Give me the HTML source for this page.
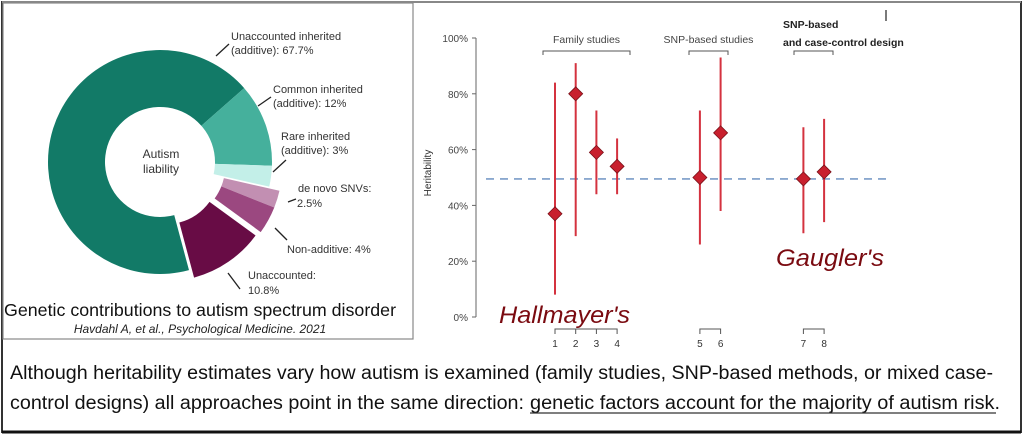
<!DOCTYPE html>
<html><head><meta charset="utf-8"><style>
body{margin:0;background:#fff;}
svg{display:block;font-family:"Liberation Sans",Arial,sans-serif;}
</style></head><body>
<svg width="1024" height="435" viewBox="0 0 1024 435">
<rect x="2" y="2" width="1019" height="430" fill="#fff" stroke="#333" stroke-width="2"/>
<line x1="2" y1="2" x2="1021" y2="2" stroke="#888" stroke-width="2"/>
<line x1="2" y1="432" x2="1021" y2="432" stroke="#111" stroke-width="3"/>
<rect x="3" y="3" width="410" height="336" fill="none" stroke="#888" stroke-width="1.2"/>
<g id="donut"></g>
<text x="161" y="158" font-size="12" fill="#333" text-anchor="middle">Autism</text>
<text x="161" y="173" font-size="12" fill="#333" text-anchor="middle">liability</text>
<g font-size="11" fill="#333">
<text x="231" y="40">Unaccounted inherited</text><text x="231" y="54">(additive): 67.7%</text>
<line x1="216" y1="56" x2="229" y2="44" stroke="#222" stroke-width="1.3"/>
<text x="273" y="93">Common inherited</text><text x="273" y="107">(additive): 12%</text>
<line x1="258" y1="106" x2="271" y2="97" stroke="#222" stroke-width="1.3"/>
<text x="281" y="140">Rare inherited</text><text x="281" y="154">(additive): 3%</text>
<line x1="273" y1="172" x2="286" y2="160" stroke="#222" stroke-width="1.3"/>
<text x="298" y="192">de novo SNVs:</text><text x="297" y="207">2.5%</text>
<line x1="288" y1="202" x2="296" y2="199" stroke="#222" stroke-width="1.3"/>
<text x="287" y="253">Non-additive: 4%</text>
<line x1="275" y1="228" x2="287" y2="240" stroke="#222" stroke-width="1.3"/>
<text x="248" y="279">Unaccounted:</text><text x="248" y="294">10.8%</text>
<line x1="228" y1="273" x2="240" y2="289" stroke="#222" stroke-width="1.3"/>
</g>
<text x="4" y="316" font-size="17.5" fill="#111" textLength="392" lengthAdjust="spacingAndGlyphs">Genetic contributions to autism spectrum disorder</text>
<text x="200" y="333" font-size="12" font-style="italic" fill="#222" text-anchor="middle">Havdahl A,  et al., Psychological Medicine. 2021</text>

<g id="chart"></g>

<text x="10" y="379" font-size="19" fill="#111" textLength="983" lengthAdjust="spacingAndGlyphs">Although heritability estimates vary how autism is examined (family studies, SNP-based methods, or mixed case-</text>
<text x="10" y="409" font-size="19" fill="#111" textLength="514" lengthAdjust="spacingAndGlyphs">control designs) all approaches point in the same direction:</text>
<text x="530" y="409" font-size="19" fill="#111" textLength="470" lengthAdjust="spacingAndGlyphs">genetic factors account for the majority of autism risk.</text>
<line x1="530" y1="413" x2="996" y2="413" stroke="#333" stroke-width="1.2"/>
</svg>
<script>
const sliceLabels=["Unaccounted inherited","Common inherited","Rare inherited","de novo SNVs","Non-additive","Unaccounted"];
const sliceValues=[67.7,12,3,2.5,4,10.8];
const sliceColors=["#127a67","#45b09c","#c3efe8","#c28fb2","#9b4880","#680c45"];
const sliceExplode=[0,0,0,11,11,9];
const studies=["1","2","3","4","5","6","7","8"];
const estimates=[37,80,59,54,50,66,49.5,52];
const lowerCI=[8,29,44,44,26,38,30,34];
const upperCI=[84,91,74,64,74,93,68,71];
const studyX=[1,2,3,4,8,9,13,14];
const yTicks=[0,20,40,60,80,100];
const refLine=49.5;

const NS="http://www.w3.org/2000/svg";
function mk(tag,attrs,parent){const e=document.createElementNS(NS,tag);for(const k in attrs)e.setAttribute(k,attrs[k]);parent.appendChild(e);return e;}

const dg=document.getElementById('donut');
const cx=160,cy=162,R=112,r=55;
let start=165;
const total=sliceValues.reduce((a,b)=>a+b,0);
const pt=(a,rad,ox,oy)=>[cx+ox+rad*Math.sin(a*Math.PI/180),cy+oy-rad*Math.cos(a*Math.PI/180)];
let ang=start;
sliceValues.forEach((v,i)=>{
  const sw=v/total*360;
  const a0=ang,a1=ang+sw; ang=a1;
  let mid=(a0+a1)/2;
  if(i===3||i===4) mid=100+(sliceValues[3]+sliceValues[4])/total*180;
  const ox=sliceExplode[i]*Math.sin(mid*Math.PI/180), oy=-sliceExplode[i]*Math.cos(mid*Math.PI/180);
  const p1=pt(a0,R,ox,oy),p2=pt(a1,R,ox,oy),p3=pt(a1,r,ox,oy),p4=pt(a0,r,ox,oy);
  const large=sw>180?1:0;
  const p=mk('path',{d:`M${p1}A${R},${R} 0 ${large} 1 ${p2}L${p3}A${r},${r} 0 ${large} 0 ${p4}Z`,fill:sliceColors[i]},dg);
  
  
});

const g=document.getElementById('chart');
const y0=317,y100=38;
const ys=v=>y0-(v/100)*(y0-y100);
const xs=i=>555+(i-1)*20.7;
mk('line',{x1:476,y1:ys(0),x2:476,y2:ys(100),stroke:'#666','stroke-width':1},g);
yTicks.forEach(t=>{
  mk('line',{x1:472,y1:ys(t),x2:476,y2:ys(t),stroke:'#666'},g);
  const tx=mk('text',{x:468,y:ys(t)+4,'font-size':10,fill:'#444','text-anchor':'end'},g);
  tx.textContent=t+'%';
  
  
});
const yl=mk('text',{x:0,y:0,'font-size':10,fill:'#333','text-anchor':'middle',transform:'translate(431,173) rotate(-90)'},g);
yl.textContent='Heritability';


const rl=mk('line',{x1:486,y1:ys(refLine),x2:887,y2:ys(refLine),stroke:'#7a9cc8','stroke-width':1.6,'stroke-dasharray':'8,6'},g);


studies.forEach((s,k)=>{
  const x=xs(studyX[k]);
  const l=mk('line',{x1:x,y1:ys(lowerCI[k]),x2:x,y2:ys(upperCI[k]),stroke:'#d4323f','stroke-width':2},g);
  
  
  const yv=ys(estimates[k]),d=7;
  const m=mk('path',{d:`M${x},${yv-d}L${x+d},${yv}L${x},${yv+d}L${x-d},${yv}Z`,fill:'#c8202e',stroke:'#7a1018','stroke-width':0.8},g);
  
  
  const t=mk('text',{x:x,y:347,'font-size':10,fill:'#333','text-anchor':'middle'},g);
  t.textContent=s;
  
  
});
[[1,4],[5,6],[7,8]].forEach(([a,b])=>{
  const x1=xs(studyX[a-1]),x2=xs(studyX[b-1]);
  let d=`M${x1},334V329H${x2}V334`;
  for(let i=a;i<b;i++){const xm=xs(studyX[i]);d+=`M${xm},329V334`;}
  const p=mk('path',{d:d,fill:'none',stroke:'#555','stroke-width':1},g);
  
  
});
const groups=[["Family studies",543,630],["SNP-based studies",689,728],["",794,833]];
groups.forEach(([lab,a,b])=>{
  const p=mk('path',{d:`M${a},55V51H${b}V55`,fill:'none',stroke:'#555'},g);
  
  
  if(lab){const t=mk('text',{x:(a+b)/2,y:43,'font-size':10.5,fill:'#444','text-anchor':'middle'},g);t.textContent=lab;
  
  }
});
const t1=mk('text',{x:783,y:28,'font-size':10.5,'font-weight':'bold',fill:'#222'},g);t1.textContent='SNP-based';


const t2=mk('text',{x:783,y:46,'font-size':10.5,'font-weight':'bold',fill:'#222'},g);t2.textContent='and case-control design';
mk('line',{x1:886,y1:10,x2:886,y2:21,stroke:'#333','stroke-width':1.3},g);
const h=mk('text',{x:499,y:323,'font-size':24,'font-style':'italic',fill:'#7a0a10',textLength:131,lengthAdjust:'spacingAndGlyphs'},g);h.textContent="Hallmayer's";


const ga=mk('text',{x:776,y:266,'font-size':24,'font-style':'italic',fill:'#7a0a10',textLength:108,lengthAdjust:'spacingAndGlyphs'},g);ga.textContent="Gaugler's";


</script>
</body></html>
